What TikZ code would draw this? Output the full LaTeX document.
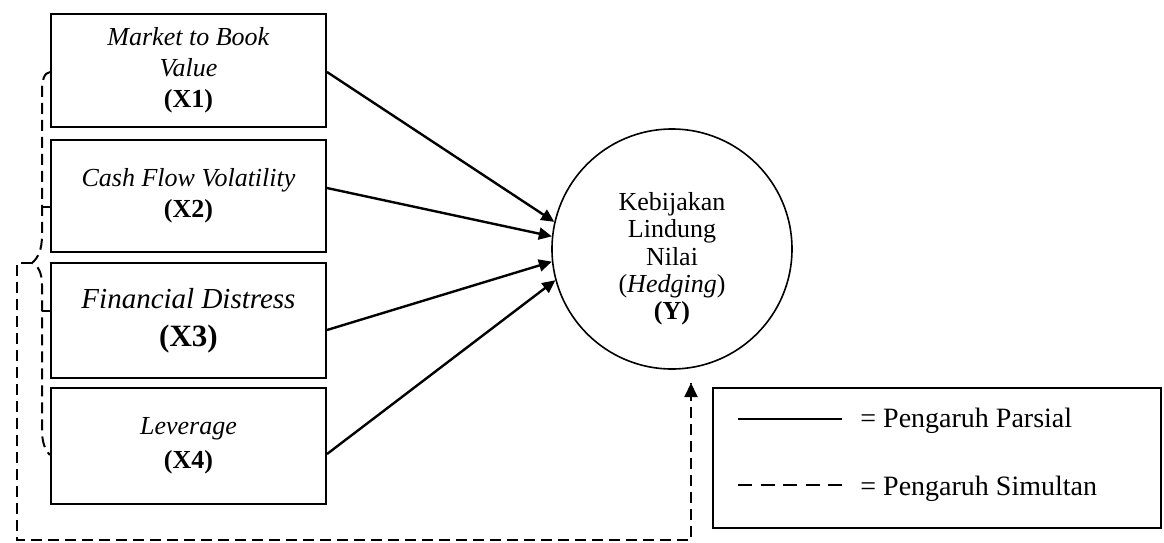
\documentclass[tikz,border=0pt]{standalone}
\usepackage{fontspec}
\setmainfont{Liberation Serif}
\usetikzlibrary{arrows.meta}
\begin{document}
\begin{tikzpicture}[x=0.5pt,y=-0.5pt,
  varbox/.style={draw,line width=1pt,inner sep=0pt,align=center,
    minimum width=137.5pt},
  partial/.style={line width=1.2pt,-{Triangle[length=6.5pt,width=6pt]}},
  simul/.style={line width=1pt,dash pattern=on 5.5pt off 3pt},
  legsimul/.style={line width=1pt,dash pattern=on 7pt off 4.3pt},
  normfont/.style={font=\fontsize{13}{15.5}\selectfont}]
\useasboundingbox (0,0) rectangle (1164,542);
% variable boxes
\node[varbox,normfont,minimum height=56.5pt] (x1) at (188.5,70.5)
  {\textit{Market to Book}\\\textit{Value}\\\textbf{(X1)}};
\node[varbox,normfont,minimum height=56pt] (x2) at (188.5,196)
  {\textit{Cash Flow Volatility}\\\textbf{(X2)}};
\node[varbox,font=\fontsize{14.5}{19}\selectfont,minimum height=57.5pt] (x3) at (188.5,320.5)
  {\textit{Financial Distress}\\\fontsize{15.5}{19}\selectfont\textbf{(X3)}};
\node[varbox,font=\fontsize{13}{17}\selectfont,minimum height=58pt] (x4) at (188.5,446)
  {\textit{Leverage}\\\textbf{(X4)}};
% dependent variable
\node[draw,circle,line width=0.8pt,minimum size=120pt,inner sep=0pt] (y) at (672,249) {};
\node[align=center,font=\fontsize{13}{13.65}\selectfont] (ytext) at (672,259)
  {Kebijakan\\Lindung\\Nilai\\(\textit{Hedging})\\\textbf{(Y)}};
% partial arrows
\draw[partial] (x1.east |- 0,72) -- (y.167);
\draw[partial] (x2.east |- 0,188) -- (y.174.8);
\draw[partial] (x3.east |- 0,330) -- (y.186.7);
\draw[partial] (x4.east |- 0,454) -- (y.195.5);
% simultaneous bracket
\coordinate (tip) at (32,263);
\coordinate (yin) at (691,383);
\draw[simul] (x1.west |- 0,72) .. controls (44,73) and (42,80) .. (42,92) -- (42,235)
  .. controls (42,250) and (38,258) .. (tip)
  .. controls (38,266) and (42,272) .. (42,285) -- (42,430)
  .. controls (42,442) and (45,450) .. (x4.west |- 0,455);
\draw[line width=1pt] (42,207) -- (x2.west |- 0,207);
\draw[line width=1pt] (42,311) -- (x3.west |- 0,311);
\draw[simul] (tip) -- (17,263) -- (17,540) -- (691,540) -- (yin);
\draw[line width=1pt,-{Triangle[length=7pt,width=6.5pt]}] (691,392) -- (yin);
% legend
\node[draw,line width=1pt,minimum width=224pt,minimum height=70pt,inner sep=0pt] (leg) at (937,458) {};
\coordinate (l1a) at (738,419);
\coordinate (l1b) at (842,419);
\coordinate (l2a) at (738,485);
\coordinate (l2b) at (842,485);
\draw[line width=1pt] (l1a) -- (l1b);
\draw[legsimul] (l2a) -- (l2b);
\node[anchor=base west,inner sep=0pt,font=\fontsize{14}{16}\selectfont] (t1) at (860,427) {= Pengaruh Parsial};
\node[anchor=base west,inner sep=0pt,font=\fontsize{14}{16}\selectfont] (t2) at (860,495) {= Pengaruh Simultan};
\end{tikzpicture}
\end{document}
